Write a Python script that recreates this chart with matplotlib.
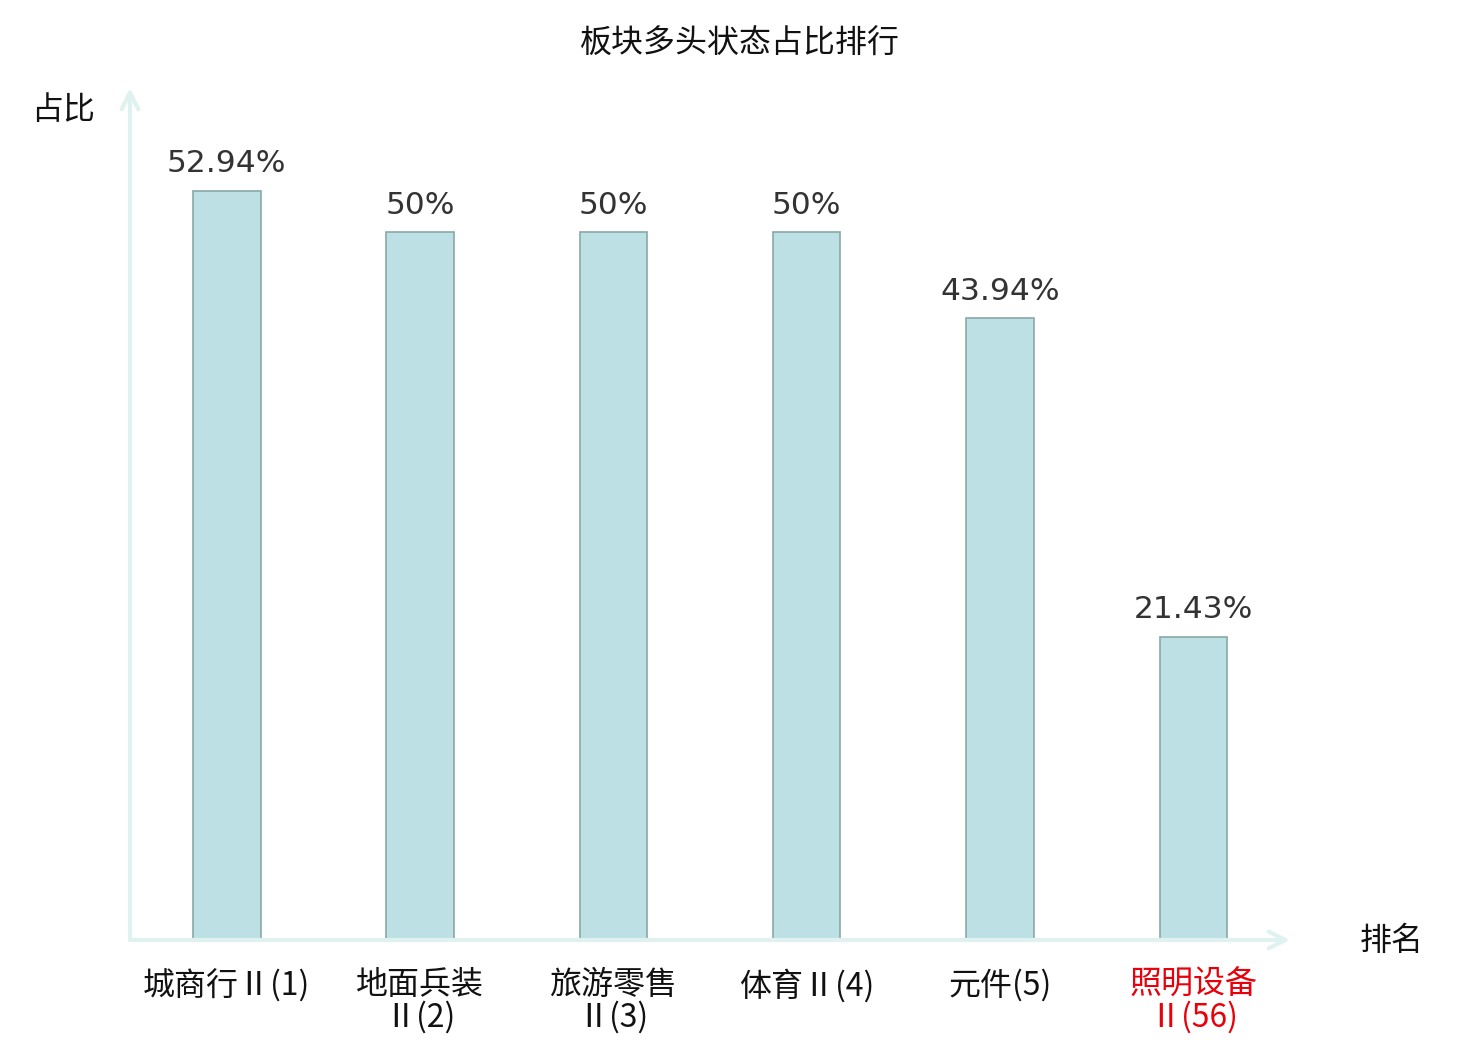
import matplotlib
matplotlib.use('Agg')
import matplotlib.pyplot as plt
import numpy as np

plt.rcParams['font.family'] = ['Noto Sans CJK SC', 'DejaVu Sans']

categories = ['城商行Ⅱ(1)', '地面兵装\nⅡ(2)', '旅游零售\nⅡ(3)', '体育Ⅱ(4)', '元件(5)', '照明设备\nⅡ(56)']
values = [52.94, 50, 50, 50, 43.94, 21.43]
value_labels = ['52.94%', '50%', '50%', '50%', '43.94%', '21.43%']
label_colors = ['#111111', '#111111', '#111111', '#111111', '#111111', '#e8000b']

axis_color = '#dff2ef'

fig = plt.figure(figsize=(14.8, 10.4), dpi=100)
ax = fig.add_axes([130 / 1480, 100 / 1040, 1160 / 1480, 852 / 1040])

x = np.arange(len(categories))
ax.bar(x, values, width=0.35, color='#bce0e3', edgecolor='#8aa8a8', linewidth=1.2, zorder=3)

for xi, v, lab in zip(x, values, value_labels):
    ax.annotate(lab, (xi, v), xytext=(0, 9), textcoords='offset points',
                ha='center', va='bottom', fontsize=22.5, color='#333333',
                family='DejaVu Sans')

ax.set_xlim(-0.5, 5.5)
ax.set_ylim(0, 60.2)
for s in ax.spines.values():
    s.set_visible(False)
ax.set_yticks([])
ax.set_xticks(x)
ax.set_xticklabels(categories, fontsize=23, linespacing=1.0)
ax.tick_params(axis='x', length=0, pad=21)
for t, c in zip(ax.get_xticklabels(), label_colors):
    t.set_color(c)

# axis arrows
ax.annotate('', xy=(1, 0), xytext=(0, 0), xycoords='axes fraction',
            arrowprops=dict(arrowstyle='->', color=axis_color, lw=3,
                            mutation_scale=30, shrinkA=0, shrinkB=0))
ax.annotate('', xy=(0, 1), xytext=(0, 0), xycoords='axes fraction',
            arrowprops=dict(arrowstyle='->', color=axis_color, lw=3,
                            mutation_scale=30, shrinkA=0, shrinkB=0))

fig.text(63 / 1480, 1 - 110 / 1040, '占比', ha='center', va='center', fontsize=23, color='#111111')
fig.text(1392 / 1480, 1 - 941 / 1040, '排名', ha='center', va='center', fontsize=23, color='#111111')
fig.text(0.5, 1 - 44 / 1040, '板块多头状态占比排行', ha='center', va='center', fontsize=23, color='#111111')

fig.savefig('out.png', dpi=100)
